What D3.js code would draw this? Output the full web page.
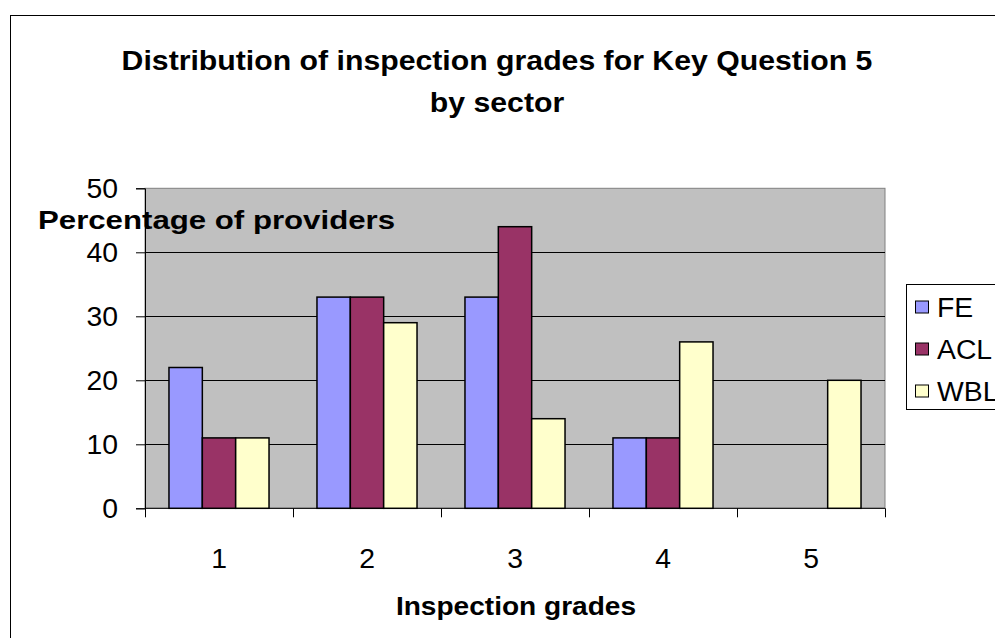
<!DOCTYPE html>
<html>
<head>
<meta charset="utf-8">
<script src="https://cdn.jsdelivr.net/npm/d3@7"></script>
<style>
  html, body { margin: 0; padding: 0; background: #ffffff; }
  svg { display: block; }
  text { font-family: Arial, "Liberation Sans", sans-serif; fill: #000; }
</style>
</head>
<body>
<svg id="chart" width="995" height="638"></svg>
<script>
// ---- data ----
const grades = ["1", "2", "3", "4", "5"];
const seriesNames = ["FE", "ACL", "WBL"];
const FE  = [22, 33, 33, 11, 0];
const ACL = [11, 33, 44, 11, 0];
const WBL = [11, 29, 14, 26, 20];
const yTicks = [0, 10, 20, 30, 40, 50];
const seriesColors = ["#9999FF", "#993366", "#FFFFCC"];
const titleLines = ["Distribution of inspection grades for Key Question 5", "by sector"];
const yTitle = "Percentage of providers";
const xTitle = "Inspection grades";

const seriesValues = [FE, ACL, WBL];

// ---- layout ----
const plot = { left: 145, right: 885, top: 188.3, bottom: 508.3 };
const SX = 1.05;        // slight horizontal stretch of text seen in the reference
const FS = 27;

const svg = d3.select("#chart");

// outer chart border
svg.append("rect")
  .attr("x", 10.5).attr("y", 15.5)
  .attr("width", 1100).attr("height", 700)
  .attr("fill", "#fff").attr("stroke", "#000").attr("stroke-width", 1);

function stretchedText(parent, x, y, str, opts) {
  const sx = opts.sx || SX;
  const t = parent.append("text")
    .attr("transform", `translate(${x},${y}) scale(${sx},1)`)
    .attr("text-anchor", opts.anchor || "start")
    .attr("font-size", opts.size || FS)
    .attr("font-weight", opts.bold ? "bold" : "normal")
    .text(str);
  if (opts.dy) t.attr("dy", opts.dy);
  return t;
}

// scales
const x0 = d3.scaleBand().domain(grades)
  .range([plot.left, plot.right])
  .paddingInner(0.324).paddingOuter(0.162);
const x1 = d3.scaleBand().domain(seriesNames).range([0, x0.bandwidth()]);
const y = d3.scaleLinear().domain([0, 50]).range([plot.bottom, plot.top]);

// plot area background
svg.append("rect")
  .attr("x", plot.left).attr("y", plot.top)
  .attr("width", plot.right - plot.left).attr("height", plot.bottom - plot.top)
  .attr("fill", "#C0C0C0").attr("stroke", "#808080").attr("stroke-width", 1);

// gridlines
svg.append("g").selectAll("line")
  .data(yTicks.filter(d => d > 0 && d < 50))
  .join("line")
  .attr("x1", plot.left).attr("x2", plot.right)
  .attr("y1", d => Math.round(y(d)) + 0.5).attr("y2", d => Math.round(y(d)) + 0.5)
  .attr("stroke", "#000").attr("stroke-width", 1);

// y axis
const yAxis = svg.append("g")
  .attr("transform", `translate(${plot.left},0)`)
  .call(d3.axisLeft(y).tickValues(yTicks).tickSize(9).tickFormat(""));
yAxis.select(".domain").attr("stroke", "#000");
yAxis.selectAll(".tick line").attr("stroke", "#000");
yTicks.forEach(v => {
  stretchedText(svg, 118, y(v), String(v), { anchor: "end", dy: "0.36em" });
});

// x axis (ticks at category boundaries)
const boundaries = grades.map(g => x0(g) - x0.step() * x0.paddingOuter()).concat([plot.right]);
svg.append("line")
  .attr("x1", plot.left).attr("x2", plot.right)
  .attr("y1", plot.bottom).attr("y2", plot.bottom)
  .attr("stroke", "#000").attr("stroke-width", 1);
svg.append("g").selectAll("line").data(boundaries).join("line")
  .attr("x1", d => Math.round(d) + 0.5).attr("x2", d => Math.round(d) + 0.5)
  .attr("y1", plot.bottom).attr("y2", plot.bottom + 9)
  .attr("stroke", "#000").attr("stroke-width", 1);
grades.forEach(g => {
  stretchedText(svg, x0(g) + x0.bandwidth() / 2, 568, g, { anchor: "middle" });
});

// bars
const groups = svg.append("g").selectAll("g")
  .data(grades).join("g")
  .attr("transform", g => `translate(${x0(g)},0)`);
groups.selectAll("rect")
  .data((g, gi) => seriesNames.map((s, si) => ({ s, si, v: seriesValues[si][gi] })).filter(d => d.v > 0))
  .join("rect")
  .attr("x", d => x1(d.s))
  .attr("y", d => y(d.v))
  .attr("width", x1.bandwidth())
  .attr("height", d => y(0) - y(d.v))
  .attr("fill", d => seriesColors[d.si])
  .attr("stroke", "#000").attr("stroke-width", 1.5);

// titles
stretchedText(svg, 497, 70, titleLines[0], { anchor: "middle", bold: true, size: 27, sx: 1.12 });
stretchedText(svg, 497, 112, titleLines[1], { anchor: "middle", bold: true, size: 27, sx: 1.12 });
stretchedText(svg, 38, 229, yTitle, { anchor: "start", bold: true, size: 26, sx: 1.2 });
stretchedText(svg, 516, 615, xTitle, { anchor: "middle", bold: true, size: 26, sx: 1.08 });

// legend
const legend = svg.append("g");
legend.append("rect")
  .attr("x", 906.5).attr("y", 284.5).attr("width", 200).attr("height", 125)
  .attr("fill", "#fff").attr("stroke", "#000").attr("stroke-width", 1);
const legendY = d3.scalePoint().domain(seriesNames).range([307, 391]);
seriesNames.forEach((s, i) => {
  legend.append("rect")
    .attr("x", 915.5).attr("y", legendY(s) - 6)
    .attr("width", 13).attr("height", 12)
    .attr("fill", seriesColors[i]).attr("stroke", "#000").attr("stroke-width", 1);
  stretchedText(legend, 937, legendY(s), s, { anchor: "start", dy: "0.36em" });
});
</script>
</body>
</html>
